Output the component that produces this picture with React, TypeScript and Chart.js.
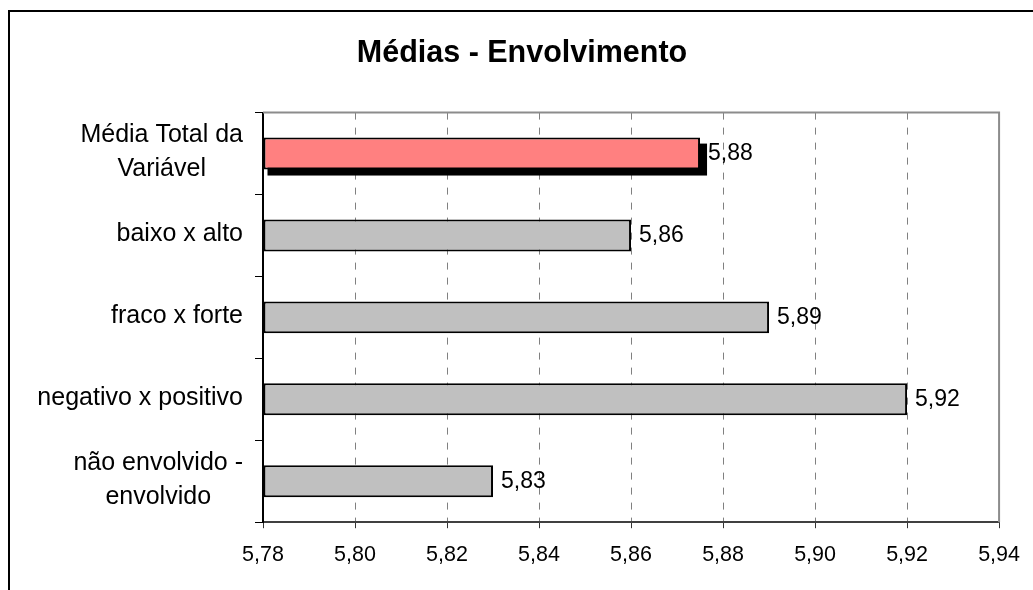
import React, { useEffect, useRef } from "react";
import { Chart, registerables } from "chart.js";

Chart.register(...registerables);

const TITLE = "Médias - Envolvimento";
const categories: (string | string[])[] = [
  ["Média Total da", "Variável"],
  "baixo x alto",
  "fraco x forte",
  "negativo x positivo",
  ["não envolvido -", "envolvido"],
];
const values: number[] = [5.875, 5.86, 5.89, 5.92, 5.83];
const barColors: string[] = ["#FF8080", "#C0C0C0", "#C0C0C0", "#C0C0C0", "#C0C0C0"];
const X_MIN = 5.78;
const X_MAX = 5.94;
const X_STEP = 0.02;

const FONT = '"Liberation Sans", Arial, Helvetica, sans-serif';
const fmt = (v: number) => v.toFixed(2).replace(".", ",");

const framePlugin = {
  id: "frame",
  beforeDatasetsDraw(chart: any) {
    const { ctx, chartArea: a } = chart;
    ctx.save();
    ctx.strokeStyle = "#8c8c8c";
    ctx.lineWidth = 2;
    ctx.beginPath();
    ctx.moveTo(a.left, a.top);
    ctx.lineTo(a.right, a.top);
    ctx.lineTo(a.right, a.bottom);
    ctx.stroke();
    ctx.restore();
  },
};

const shadowPlugin = {
  id: "shadow",
  beforeDatasetDraw(chart: any, args: any) {
    const meta = chart.getDatasetMeta(args.index);
    const el = meta.data[0];
    if (!el) return;
    const { x, y, base, height } = el.getProps(["x", "y", "base", "height"], true);
    const ctx = chart.ctx;
    ctx.save();
    ctx.fillStyle = "#000";
    ctx.fillRect(base + 4, y - height / 2 + 6, x - base + 3, height);
    ctx.restore();
  },
};

const valueLabelPlugin = {
  id: "valueLabels",
  afterDatasetsDraw(chart: any) {
    const { ctx } = chart;
    const meta = chart.getDatasetMeta(0);
    ctx.save();
    ctx.font = `23px ${FONT}`;
    ctx.fillStyle = "#000";
    ctx.textAlign = "left";
    ctx.textBaseline = "middle";
    meta.data.forEach((el: any, i: number) => {
      const { x, y } = el.getProps(["x", "y"], true);
      ctx.fillText(fmt(values[i]), x + 8, y);
    });
    ctx.restore();
  },
};

const catLabelPlugin = {
  id: "catLabels",
  afterDraw(chart: any) {
    const { ctx, chartArea, scales } = chart;
    const y = scales.y;
    ctx.save();
    ctx.font = `25px ${FONT}`;
    ctx.fillStyle = "#000";
    ctx.textAlign = "center";
    ctx.textBaseline = "middle";
    const right = chartArea.left - 20;
    categories.forEach((lab, i) => {
      const lines = Array.isArray(lab) ? lab : [lab];
      const w = Math.max(...lines.map((l) => ctx.measureText(l).width));
      const cx = right - w / 2;
      const cy = y.getPixelForValue(i) - 1;
      lines.forEach((l, j) => {
        ctx.fillText(l, cx, cy + (j - (lines.length - 1) / 2) * 34);
      });
    });
    ctx.restore();
  },
};

export default function App() {
  const ref = useRef<HTMLCanvasElement>(null);

  useEffect(() => {
    if (!ref.current) return;
    Chart.defaults.font.family = FONT;
    const chart = new Chart(ref.current, {
      type: "bar",
      data: {
        labels: categories as any,
        datasets: [
          {
            data: values,
            base: X_MIN,
            backgroundColor: barColors,
            borderColor: "#000",
            borderWidth: 2,
            borderSkipped: false,
            barPercentage: 0.39,
            categoryPercentage: 1,
          } as any,
        ],
      },
      options: {
        indexAxis: "y",
        animation: false,
        responsive: true,
        maintainAspectRatio: false,
        layout: { padding: { left: 0, right: 0, top: 0, bottom: 8 } },
        plugins: {
          legend: { display: false },
          tooltip: { enabled: false },
          title: {
            display: true,
            text: TITLE,
            color: "#000",
            font: { size: 30.5, weight: "bold", family: FONT },
            padding: { top: 23, bottom: 41 },
          },
        },
        scales: {
          x: {
            type: "linear",
            min: X_MIN,
            max: X_MAX,
            ticks: {
              stepSize: X_STEP,
              color: "#000",
              font: { size: 21.5, family: FONT },
              padding: 14,
              callback: (v: any) => fmt(Number(v)),
            },
            grid: {
              color: "#808080",
              lineWidth: 1,
              drawTicks: true,
              tickLength: 6,
              tickColor: "#333",
              tickBorderDash: [],
              borderDash: [7, 8],
            } as any,
            border: { display: true, color: "#404040", width: 2, dash: [7, 8] } as any,
          },
          y: {
            type: "category",
            offset: true,
            ticks: { display: false },
            grid: {
              offset: true,
              drawOnChartArea: false,
              drawTicks: true,
              tickLength: 8,
              color: "#000",
              tickColor: "#000",
            },
            border: { display: true, color: "#000", width: 2 },
            afterFit: (s: any) => {
              s.width = 253;
            },
          },
          y2: {
            type: "linear",
            position: "right",
            display: true,
            ticks: { display: false },
            grid: { display: false, drawTicks: false },
            border: { display: false },
            afterFit: (s: any) => {
              s.width = 34.5;
            },
          },
        },
      } as any,
      plugins: [framePlugin, shadowPlugin, valueLabelPlugin, catLabelPlugin],
    });
    return () => chart.destroy();
  }, []);

  return (
    <div
      style={{
        position: "fixed",
        left: 0,
        top: 0,
        width: 1033,
        height: 590,
        overflow: "hidden",
        background: "#fff",
      }}
    >
      <div
        style={{
          position: "absolute",
          left: 8,
          top: 10,
          width: 1040,
          height: 600,
          borderTop: "2px solid #000",
          borderLeft: "2px solid #000",
        }}
      >
        <div style={{ position: "absolute", left: 0, top: 0, width: 1024, height: 578 }}>
          <canvas ref={ref} />
        </div>
      </div>
    </div>
  );
}
